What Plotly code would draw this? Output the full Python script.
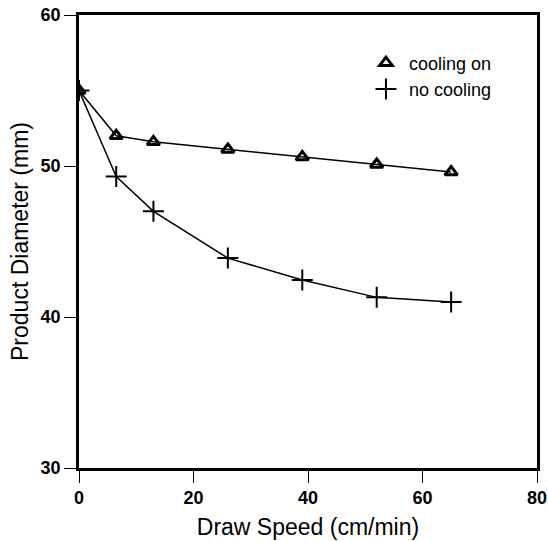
import plotly.graph_objects as go

draw_speed = [0, 6.5, 13, 26, 39, 52, 65]
cooling_on = [55.0, 52.0, 51.6, 51.1, 50.6, 50.1, 49.6]
no_cooling = [55.0, 49.3, 47.0, 43.9, 42.45, 41.3, 41.0]
series_names = ["cooling on", "no cooling"]

x_ticks = [0, 20, 40, 60, 80]
y_ticks = [30, 40, 50, 60]

FONT = "Liberation Sans, Arial, Helvetica"

tri_marker = dict(symbol="triangle-up-open", size=11, color="black",
                  line=dict(width=3, color="black"))
cross_marker = dict(symbol="cross-thin-open", size=15, color="black",
                    line=dict(width=2, color="black"))

fig = go.Figure()
fig.add_trace(go.Scatter(
    x=draw_speed, y=cooling_on, mode="lines+markers", name=series_names[0],
    line=dict(color="black", width=1.5), marker=tri_marker, showlegend=False,
))
fig.add_trace(go.Scatter(
    x=draw_speed, y=no_cooling, mode="lines+markers", name=series_names[1],
    line=dict(color="black", width=1.5), marker=cross_marker, showlegend=False,
))
# legend entries (markers only)
fig.add_trace(go.Scatter(x=[None], y=[None], mode="markers", name=series_names[0],
                         marker=tri_marker, legendgroup="a"))
fig.add_trace(go.Scatter(x=[None], y=[None], mode="markers", name=series_names[1],
                         marker=cross_marker, legendgroup="b"))

axis_common = dict(
    showgrid=False, zeroline=False, showline=True, linecolor="black",
    linewidth=2.5, mirror=True, ticks="outside", ticklen=12, tickwidth=1,
    tickcolor="black", automargin=False,
    tickfont=dict(family=FONT, size=18, color="black", weight="bold"),
)

fig.update_xaxes(range=[0, 80], tickvals=x_ticks,
                 title=dict(text="Draw Speed (cm/min)",
                            font=dict(family=FONT, size=23, color="black"),
                            standoff=12),
                 **axis_common)
fig.update_yaxes(range=[30, 60], tickvals=y_ticks,
                 title=dict(text="Product Diameter (mm)",
                            font=dict(family=FONT, size=23, color="black"),
                            standoff=6),
                 **axis_common)

fig.update_layout(
    width=548, height=541,
    margin=dict(l=79, r=11, t=15, b=73),
    plot_bgcolor="white", paper_bgcolor="white",
    showlegend=True,
    legend=dict(x=0.62, y=0.935, xanchor="left", yanchor="top",
                bgcolor="rgba(0,0,0,0)", borderwidth=0,
                font=dict(family=FONT, size=18, color="black"),
                itemwidth=36, tracegroupgap=0),
)

fig.write_html("out.html", config={"displayModeBar": False},
               post_script="document.body.style.margin='0';document.body.style.overflow='hidden';")
